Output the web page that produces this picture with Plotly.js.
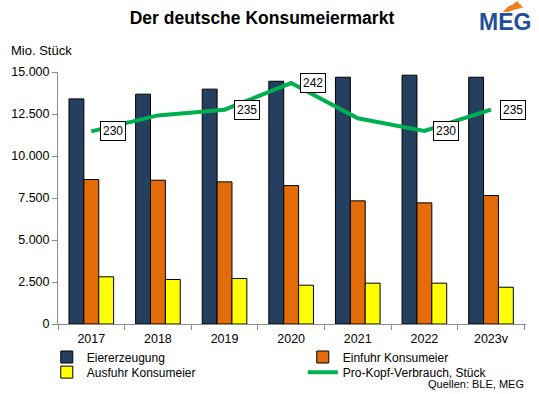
<!DOCTYPE html>
<html>
<head>
<meta charset="utf-8">
<script src="https://cdn.plot.ly/plotly-3.0.1.min.js"></script>
<style>html,body{margin:0;padding:0;background:#fff;}#chart{width:539px;height:394px;}</style>
</head>
<body>
<div id="chart"></div>
<script>
const years = ['2017', '2018', '2019', '2020', '2021', '2022', '2023v'];
const eiererzeugung = [13400, 13680, 13980, 14450, 14690, 14810, 14690];
const einfuhr = [8600, 8560, 8460, 8240, 7330, 7210, 7650];
const ausfuhr = [2810, 2650, 2710, 2310, 2430, 2430, 2190];
const proKopf = [230, 233.9, 235.3, 241.8, 233.2, 230.1, 235.3];
const showLabel = [true, false, true, true, false, true, true];
const yTicks = [0, 2500, 5000, 7500, 10000, 12500, 15000];

const FONT = 'Liberation Sans, Arial, sans-serif';
const barLine = {color: '#000000', width: 1};

const traces = [
  {type: 'bar', name: 'Eiererzeugung', x: years, y: eiererzeugung, legend: 'legend',
   marker: {color: '#243F60', line: barLine}, hoverinfo: 'skip'},
  {type: 'bar', name: 'Einfuhr Konsumeier', x: years, y: einfuhr, legend: 'legend2',
   marker: {color: '#E36C09', line: barLine}, hoverinfo: 'skip'},
  {type: 'bar', name: 'Ausfuhr Konsumeier', x: years, y: ausfuhr, legend: 'legend3',
   marker: {color: '#FFFF00', line: barLine}, hoverinfo: 'skip'},
  {type: 'scatter', mode: 'lines', name: 'Pro-Kopf-Verbrauch, Stück', x: years, y: proKopf,
   yaxis: 'y2', legend: 'legend4', line: {color: '#00B050', width: 4}, hoverinfo: 'skip'}
];

const annotations = [];
years.forEach((yr, i) => {
  if (showLabel[i]) {
    annotations.push({
      xref: 'x', yref: 'y2', x: i, y: proKopf[i], xshift: 22,
      text: String(Math.round(proKopf[i])), showarrow: false,
      bgcolor: '#ffffff', bordercolor: '#000000', borderwidth: 1, borderpad: 2,
      font: {family: FONT, size: 12, color: '#000'}
    });
  }
});
annotations.push(
  {xref: 'paper', yref: 'paper', x: -0.105, y: 1.087, xanchor: 'left', yanchor: 'middle',
   text: 'Mio. Stück', showarrow: false, font: {family: FONT, size: 13, color: '#000'}},
  {xref: 'paper', yref: 'paper', x: 1.0, y: -0.24, xanchor: 'right', yanchor: 'middle',
   text: 'Quellen: BLE, MEG', showarrow: false, font: {family: FONT, size: 11, color: '#000'}},
  {xref: 'paper', yref: 'paper', x: 1.014, y: 1.198, xanchor: 'right', yanchor: 'middle',
   text: '<b>MEG</b>', showarrow: false, font: {family: 'Liberation Sans Narrow, Arial Narrow, sans-serif', size: 23, color: '#1F4E9A'}}
);

const legBase = {orientation: 'h', xanchor: 'left', yanchor: 'middle', itemwidth: 30,
                 font: {family: FONT, size: 12, color: '#000'}, bgcolor: 'rgba(0,0,0,0)', borderwidth: 0};

const layout = {
  width: 539, height: 394,
  margin: {l: 58, r: 13, t: 72, b: 70, autoexpand: false},
  paper_bgcolor: '#ffffff', plot_bgcolor: '#ffffff',
  font: {family: FONT, size: 12, color: '#000'},
  separators: ',.',
  title: {text: '<b>Der deutsche Konsumeiermarkt</b>', x: 0.486, xanchor: 'center', y: 0.955, yanchor: 'middle',
          font: {family: FONT, size: 17.5, color: '#000'}},
  barmode: 'group', bargap: 0.33, bargroupgap: 0,
  xaxis: {type: 'category', showline: true, linecolor: '#8c8c8c', linewidth: 1,
          ticks: 'outside', tickson: 'boundaries', ticklen: 5, tickcolor: '#8c8c8c', ticklabelstandoff: 3,
          showgrid: false, zeroline: false, tickfont: {family: FONT, size: 12.5, color: '#000'}},
  yaxis: {range: [0, 15000], tickvals: yTicks, tickformat: ',.0f', showline: true, linecolor: '#8c8c8c',
          linewidth: 1, ticks: 'outside', ticklen: 5, tickcolor: '#8c8c8c', showgrid: false,
          zeroline: false, tickfont: {family: FONT, size: 12.5, color: '#000'}},
  yaxis2: {overlaying: 'y', side: 'right', range: [183, 244.5], visible: false, showgrid: false, zeroline: false},
  showlegend: true,
  legend: Object.assign({}, legBase, {x: -0.024, y: -0.131}),
  legend2: Object.assign({}, legBase, {x: 0.523, y: -0.131}),
  legend3: Object.assign({}, legBase, {x: -0.024, y: -0.191}),
  legend4: Object.assign({}, legBase, {x: 0.523, y: -0.191}),
  annotations: annotations,
  shapes: [
    {type: 'path', xref: 'paper', yref: 'paper',
     path: 'M 0.951 1.238 Q 0.96 1.262 0.972 1.268 Q 0.978 1.28 0.984 1.283 Q 0.982 1.27 0.99 1.268 Q 0.988 1.258 0.996 1.255 Q 0.975 1.25 0.962 1.238 Z',
     fillcolor: '#F07F1E', line: {width: 0}}
  ]
};

Plotly.newPlot('chart', traces, layout, {displayModeBar: false, staticPlot: true});
</script>
</body>
</html>
